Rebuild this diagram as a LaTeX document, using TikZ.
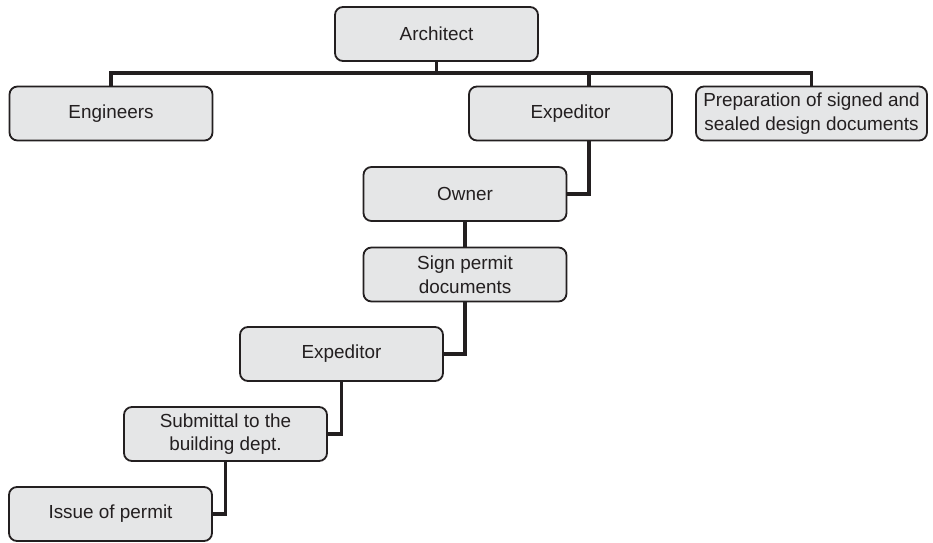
\documentclass[tikz,border=0pt]{standalone}
\usepackage{fontspec}
\setmainfont{Liberation Sans}
\begin{document}
\definecolor{boxfill}{HTML}{E5E6E7}
\definecolor{ink}{HTML}{231F20}
\begin{tikzpicture}[x=1pt,y=-1pt,
  box/.style={draw=ink, fill=boxfill, line width=1.8pt, rounded corners=8pt,
    minimum width=203pt, minimum height=54pt, inner sep=2pt, align=center,
    text=ink, font=\fontsize{18.9}{23.5}\selectfont},
  wire/.style={draw=ink, line width=3.6pt, line join=miter}]
\useasboundingbox (0,0) rectangle (933,542);

% organisation boxes
\node[box] (arch) at (436.5,34) {Architect};
\node[box] (eng)  at (111,113.5) {Engineers};
\node[box] (exp)  at (570.5,113.5) {Expeditor};
\node[box, minimum width=231pt] (prep) at (811.5,113.5) {Preparation of signed and\\sealed design documents};
\node[box] (own)  at (465,194) {Owner};
\node[box] (sign) at (465,274.5) {Sign permit\\documents};
\node[box] (exp2) at (341.5,354) {Expeditor};
\node[box] (sub)  at (225.5,434) {Submittal to the\\building dept.};
\node[box] (iss)  at (110.5,514) {Issue of permit};

% bus under the architect
\coordinate (bus) at (0,73);
\coordinate (expin) at (589,87);
\coordinate (expout) at (589,140.5);

\begin{scope}[on background layer/.try]
\draw[wire] (arch.south) -- (arch.south |- bus);
\draw[wire] (eng.north) |- (prep.north |- bus) -- (prep.north);
\draw[wire] (expin) -- (expin |- bus);
\draw[wire] (expout) |- (own.east);
\draw[wire] (own.south) -- (sign.north);
\draw[wire] (sign.south) |- (exp2.east);
\draw[wire] (exp2.south) |- (sub.east);
\draw[wire] (sub.south) |- (iss.east);
\end{scope}
\end{tikzpicture}
\end{document}
